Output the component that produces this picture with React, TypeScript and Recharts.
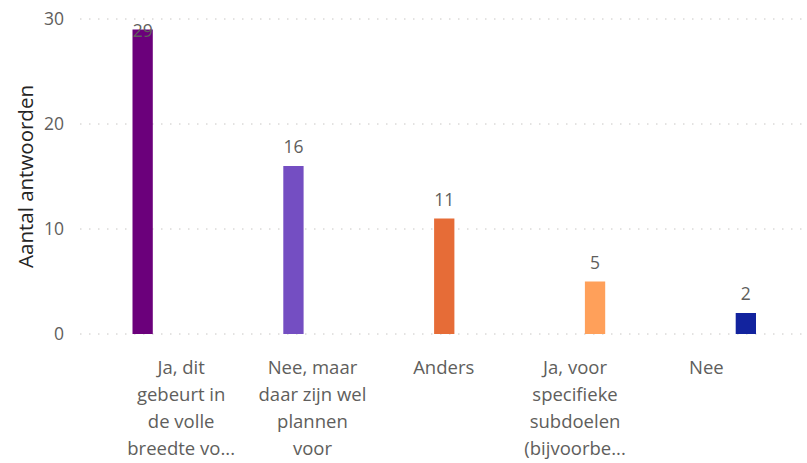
import { BarChart, Bar, XAxis, YAxis, CartesianGrid } from "recharts"

// Survey answers (Power BI style column chart)
const categories = [
  "Ja, dit gebeurt in de volle breedte vo...",
  "Nee, maar daar zijn wel plannen voor",
  "Anders",
  "Ja, voor specifieke subdoelen (bijvoorbe...",
  "Nee",
]
const tickLines = [
  ["Ja, dit", "gebeurt in", "de volle", "breedte vo..."],
  ["Nee, maar", "daar zijn wel", "plannen", "voor"],
  ["Anders"],
  ["Ja, voor", "specifieke", "subdoelen", "(bijvoorbe..."],
  ["Nee"],
]
const counts = [29, 16, 11, 5, 2]
const colors = ["#6B007B", "#744EC2", "#E66C37", "#FFA05A", "#12239E"]
const yTicks = [0, 10, 20, 30]

const seriesKeys = categories.map((_, i) => "s" + i)

// one series per category, so each bar sits in its own slot
const data = categories.map((name, i) => ({ name, [seriesKeys[i]]: counts[i] }))

const FONT = "'Segoe UI', 'Open Sans', sans-serif"

const CategoryTick = (props: any) => {
  const { x, y, payload } = props
  const idx = categories.indexOf(payload.value)
  const lines = tickLines[idx] || [payload.value]
  return (
    <text x={x} y={y + 40} textAnchor="middle" fill="#605E5C" fontSize={18.5} fontFamily={FONT}>
      {lines.map((l, i) => (
        <tspan key={i} x={x} dy={i === 0 ? 0 : 27}>
          {l}
        </tspan>
      ))}
    </text>
  )
}

const ValueLabel = (props: any) => {
  const { x, y, width, value } = props
  if (value == null) return null
  const ty = Math.max(y - 13, 37)
  return (
    <text x={x + width / 2} y={ty} textAnchor="middle" fill="#605E5C" fontSize={17.5} fontFamily={FONT}>
      {value}
    </text>
  )
}

const YTitle = (props: any) => {
  const vb = props.viewBox
  const cy = vb.y + vb.height / 2
  return (
    <text
      x={25}
      y={cy}
      transform={`rotate(-90, 25, ${cy})`}
      textAnchor="middle"
      dominantBaseline="central"
      fill="#252423"
      fontSize={20.5}
      fontFamily={FONT}
    >
      Aantal antwoorden
    </text>
  )
}

export default function App() {
  return (
    <div style={{ position: "absolute", left: 0, top: 0, background: "#fff" }}>
      <BarChart
        width={807}
        height={463}
        data={data}
        margin={{ top: 19, right: 0, left: 0, bottom: 0 }}
        barSize={20.3}
        barGap={-0.8}
      >
        <CartesianGrid vertical={false} stroke="#C8C6C4" strokeDasharray="1.5 7.5" />
        <XAxis
          dataKey="name"
          axisLine={false}
          tickLine={false}
          tickSize={0}
          tickMargin={0}
          height={129}
          interval={0}
          padding={{ left: 35.5, right: 35 }}
          tick={<CategoryTick />}
        />
        <YAxis
          width={80}
          domain={[0, 30]}
          ticks={yTicks}
          axisLine={false}
          tickLine={false}
          tickSize={0}
          tickMargin={16}
          tick={{ fill: "#605E5C", fontSize: 17.5, fontFamily: FONT }}
          label={<YTitle />}
        />
        {seriesKeys.map((k, i) => (
          <Bar key={k} dataKey={k} fill={colors[i]} isAnimationActive={false} label={<ValueLabel />} />
        ))}
      </BarChart>
    </div>
  )
}
